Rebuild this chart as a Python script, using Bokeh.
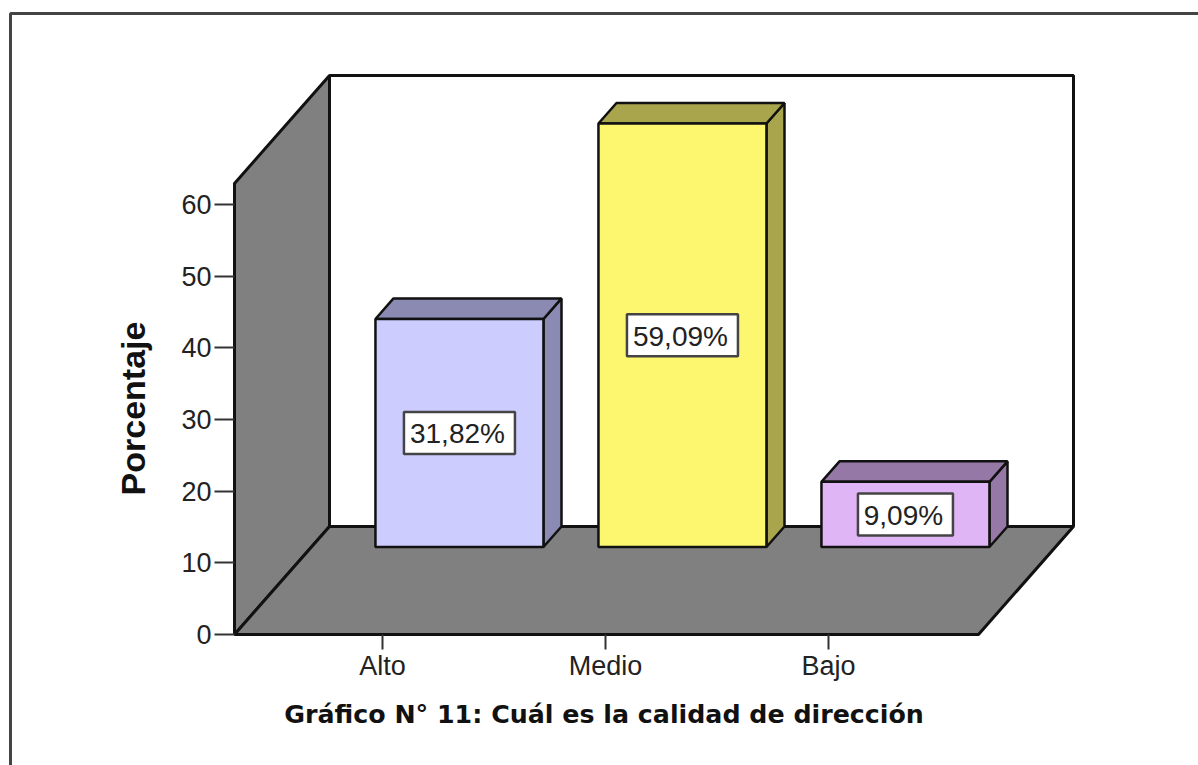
import math
from bokeh.plotting import figure
from bokeh.models import FixedTicker, Range1d, Label, LinearAxis
from bokeh.core.properties import value
from bokeh.embed import file_html
from bokeh.resources import INLINE

categories = ["Alto", "Medio", "Bajo"]
percent = [31.82, 59.09, 9.09]
labels = ["31,82%", "59,09%", "9,09%"]
front_colors = ["#CCCCFF", "#FCF76E", "#E0B5F5"]
side_colors = ["#8A8AB2", "#A8A54C", "#9678A6"]
y_ticks = [0, 10, 20, 30, 40, 50, 60]
label_box_widths = [111, 111, 95]
x_title = "Gráfico N° 11: Cuál es la calidad de dirección"
y_title = "Porcentaje"

FONT = "Liberation Sans"
X_POS = [1, 2, 3]
PX_X = 223.0        # pixels per category
PX_Y = 7.167        # pixels per percent
W = 1198
H = 765
AX_L, AX_B, TICK1 = 234, 634, 382     # axis corner and first tick, in image pixels


def dx(px):
    return 1 + (px - TICK1) / PX_X


def dy(py):
    return (AX_B - py) / PX_Y


x0 = dx(AX_L)
wall_dx = 95 / PX_X
wall_dy = 108 / PX_Y
floor_right = dx(978)
wall_top = 451 / PX_Y
bar_w = 168 / PX_X
front_depth = 0.81

p = figure(width=W, height=H, output_backend="svg", toolbar_location=None,
           x_range=Range1d(dx(0), dx(W)), y_range=Range1d(dy(H), dy(0)),
           x_axis_type=None, y_axis_type=None,
           min_border=0, min_border_left=0, min_border_right=0,
           min_border_top=0, min_border_bottom=0)
p.outline_line_color = None
p.grid.visible = False
p.background_fill_color = "white"
p.border_fill_color = "white"

# outer chart border, running off the page at the right and the bottom
p.line([dx(10), dx(10), dx(W + 5)], [dy(H + 5), dy(13), dy(13)],
       line_color="#444444", line_width=3)

WALL_LW = 3
# back wall
p.patch([x0 + wall_dx, floor_right + wall_dx, floor_right + wall_dx, x0 + wall_dx],
        [wall_dy, wall_dy, wall_top + wall_dy, wall_top + wall_dy],
        fill_color="white", line_color="#111111", line_width=WALL_LW)
# left wall
p.patch([x0, x0 + wall_dx, x0 + wall_dx, x0],
        [0, wall_dy, wall_top + wall_dy, wall_top],
        fill_color="#808080", line_color="#111111", line_width=WALL_LW)
# floor
p.patch([x0, floor_right, floor_right + wall_dx, x0 + wall_dx],
        [0, 0, wall_dy, wall_dy],
        fill_color="#808080", line_color="#111111", line_width=WALL_LW)

# bars
fx = front_depth * wall_dx
fy = front_depth * wall_dy
bx = wall_dx - fx
by = wall_dy - fy
for xp, v, fc, sc in zip(X_POS, percent, front_colors, side_colors):
    l = xp + fx - bar_w / 2
    r = xp + fx + bar_w / 2
    b = fy
    t = fy + v
    p.patch([r, r + bx, r + bx, r], [b, b + by, t + by, t],
            fill_color=sc, line_color="#111111", line_width=2.5)
    p.patch([l, r, r + bx, l + bx], [t, t, t + by, t + by],
            fill_color=sc, line_color="#111111", line_width=2.5)
    p.quad(left=[l], right=[r], bottom=[b], top=[t],
           fill_color=fc, line_color="#111111", line_width=2.5)

# value labels
lx = [xp + fx for xp in X_POS]
ly = [fy + v / 2 for v in percent]
p.rect(lx, ly, width=label_box_widths, height=42,
       width_units="screen", height_units="screen",
       fill_color="white", line_color="#444444", line_width=2.5)
p.text(lx, ly, text=labels, text_align="center", text_baseline="middle",
       text_font=value(FONT), text_font_size="28px", text_color="#222222",
       x_offset=-2, y_offset=1)

# axes, pinned to the corner of the 3D box
ax = LinearAxis(fixed_location=0)
ax.ticker = FixedTicker(ticks=X_POS)
ax.major_label_overrides = {x: c for x, c in zip(X_POS, categories)}
ax.bounds = (x0, floor_right)
ax.axis_line_color = "#111111"
ax.axis_line_width = WALL_LW
ax.major_tick_line_color = "#333333"
ax.major_tick_line_width = 2
ax.major_tick_in = 0
ax.major_tick_out = 15
ax.minor_tick_line_color = None
ax.major_label_text_font = FONT
ax.major_label_text_font_size = "27px"
ax.major_label_text_color = "#222222"
ax.major_label_standoff = 1
p.add_layout(ax, "below")

ay = LinearAxis(fixed_location=x0)
ay.ticker = FixedTicker(ticks=y_ticks)
ay.bounds = (0, wall_top)
ay.axis_line_color = "#111111"
ay.axis_line_width = WALL_LW
ay.major_tick_line_color = "#333333"
ay.major_tick_line_width = 2
ay.major_tick_in = 0
ay.major_tick_out = 20
ay.minor_tick_line_color = None
ay.major_label_text_font = FONT
ay.major_label_text_font_size = "27px"
ay.major_label_text_color = "#222222"
ay.major_label_standoff = 3
p.add_layout(ay, "left")

# axis titles
p.add_layout(Label(x=dx(603.5), y=dy(714),
                   text=x_title, text_align="center", text_baseline="middle",
                   text_font="DejaVu Sans", text_font_style="bold",
                   text_font_size="25.3px", text_color="#111111"))
p.add_layout(Label(x=dx(132), y=dy(408),
                   text=y_title, text_align="center", text_baseline="middle",
                   angle=math.pi / 2, text_font=FONT, text_font_style="bold",
                   text_font_size="34px", text_color="#111111"))

open("out.html", "w").write(file_html(p, INLINE))
